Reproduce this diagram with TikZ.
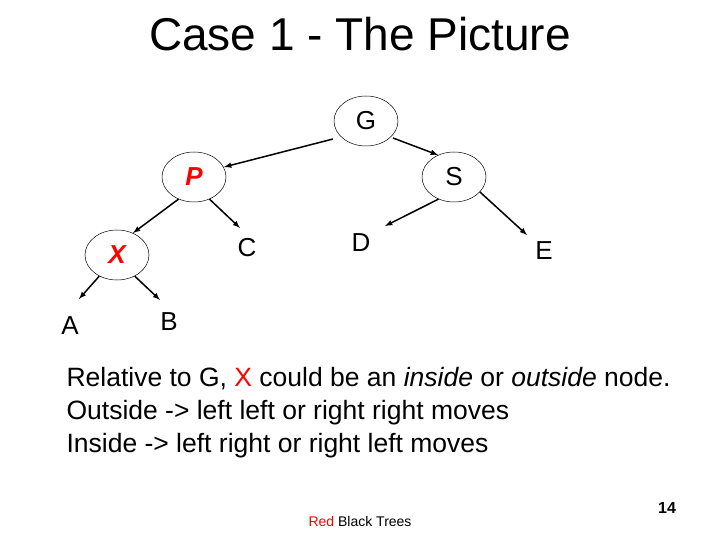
\documentclass[tikz,border=0pt]{standalone}
\usepackage{fontspec}
\setmainfont{Liberation Sans}
\usetikzlibrary{shapes.geometric}
\begin{document}
\begin{tikzpicture}[x=1pt,y=-1pt,
  nd/.style={draw,ellipse,minimum width=64pt,minimum height=50pt,inner sep=0pt,line width=0.5pt,font=\fontsize{26}{30}\selectfont},
  lf/.style={inner sep=0pt,font=\fontsize{26}{30}\selectfont},
  ar/.style={-latex,line width=1.5pt}]
\useasboundingbox (0,0) rectangle (720,540);
\node at (360,34) {\fontsize{46}{50}\selectfont Case 1 - The Picture};
\node[nd] (G) at (366,121) {G};
\node[nd] (P) at (194,177) {\color{red}\bfseries\itshape P};
\node[nd] (S) at (454,177) {S};
\node[nd] (X) at (117,255) {\color{red}\bfseries\itshape X};
\node[lf] (C) at (247,248) {C};
\node[lf] (D) at (361,243) {D};
\node[lf] (E) at (544,251) {E};
\node[lf] (A) at (70,326) {A};
\node[lf] (B) at (169,322) {B};
\coordinate (g1) at (333,139); \coordinate (g2) at (393,138);
\draw[ar] (g1) -- (224,167);
\draw[ar] (g2) -- (438,155);
\draw[ar] (P.-125) -- (133,233);
\draw[ar] (P.-55) -- (240,228);
\draw[ar] (S.-125) -- (385,226);
\draw[ar] (S.-30) -- (527,235);
\draw[ar] (X.-130) -- (79,299);
\draw[ar] (X.-50) -- (160,300);
\node[anchor=west,align=left,font=\fontsize{26.5}{33}\selectfont] (T) at (63,413) {Relative to G, {\color{red}X} could be an \textit{inside} or \textit{outside} node.\\Outside -> left left or right right moves\\Inside -> left right or right left moves};
\node[font=\fontsize{14}{16}\selectfont] (R) at (360,521) {{\color{red}Red} Black Trees};
\node[font=\fontsize{16}{18}\selectfont\bfseries] (N) at (667,508) {14};
\end{tikzpicture}
\end{document}
